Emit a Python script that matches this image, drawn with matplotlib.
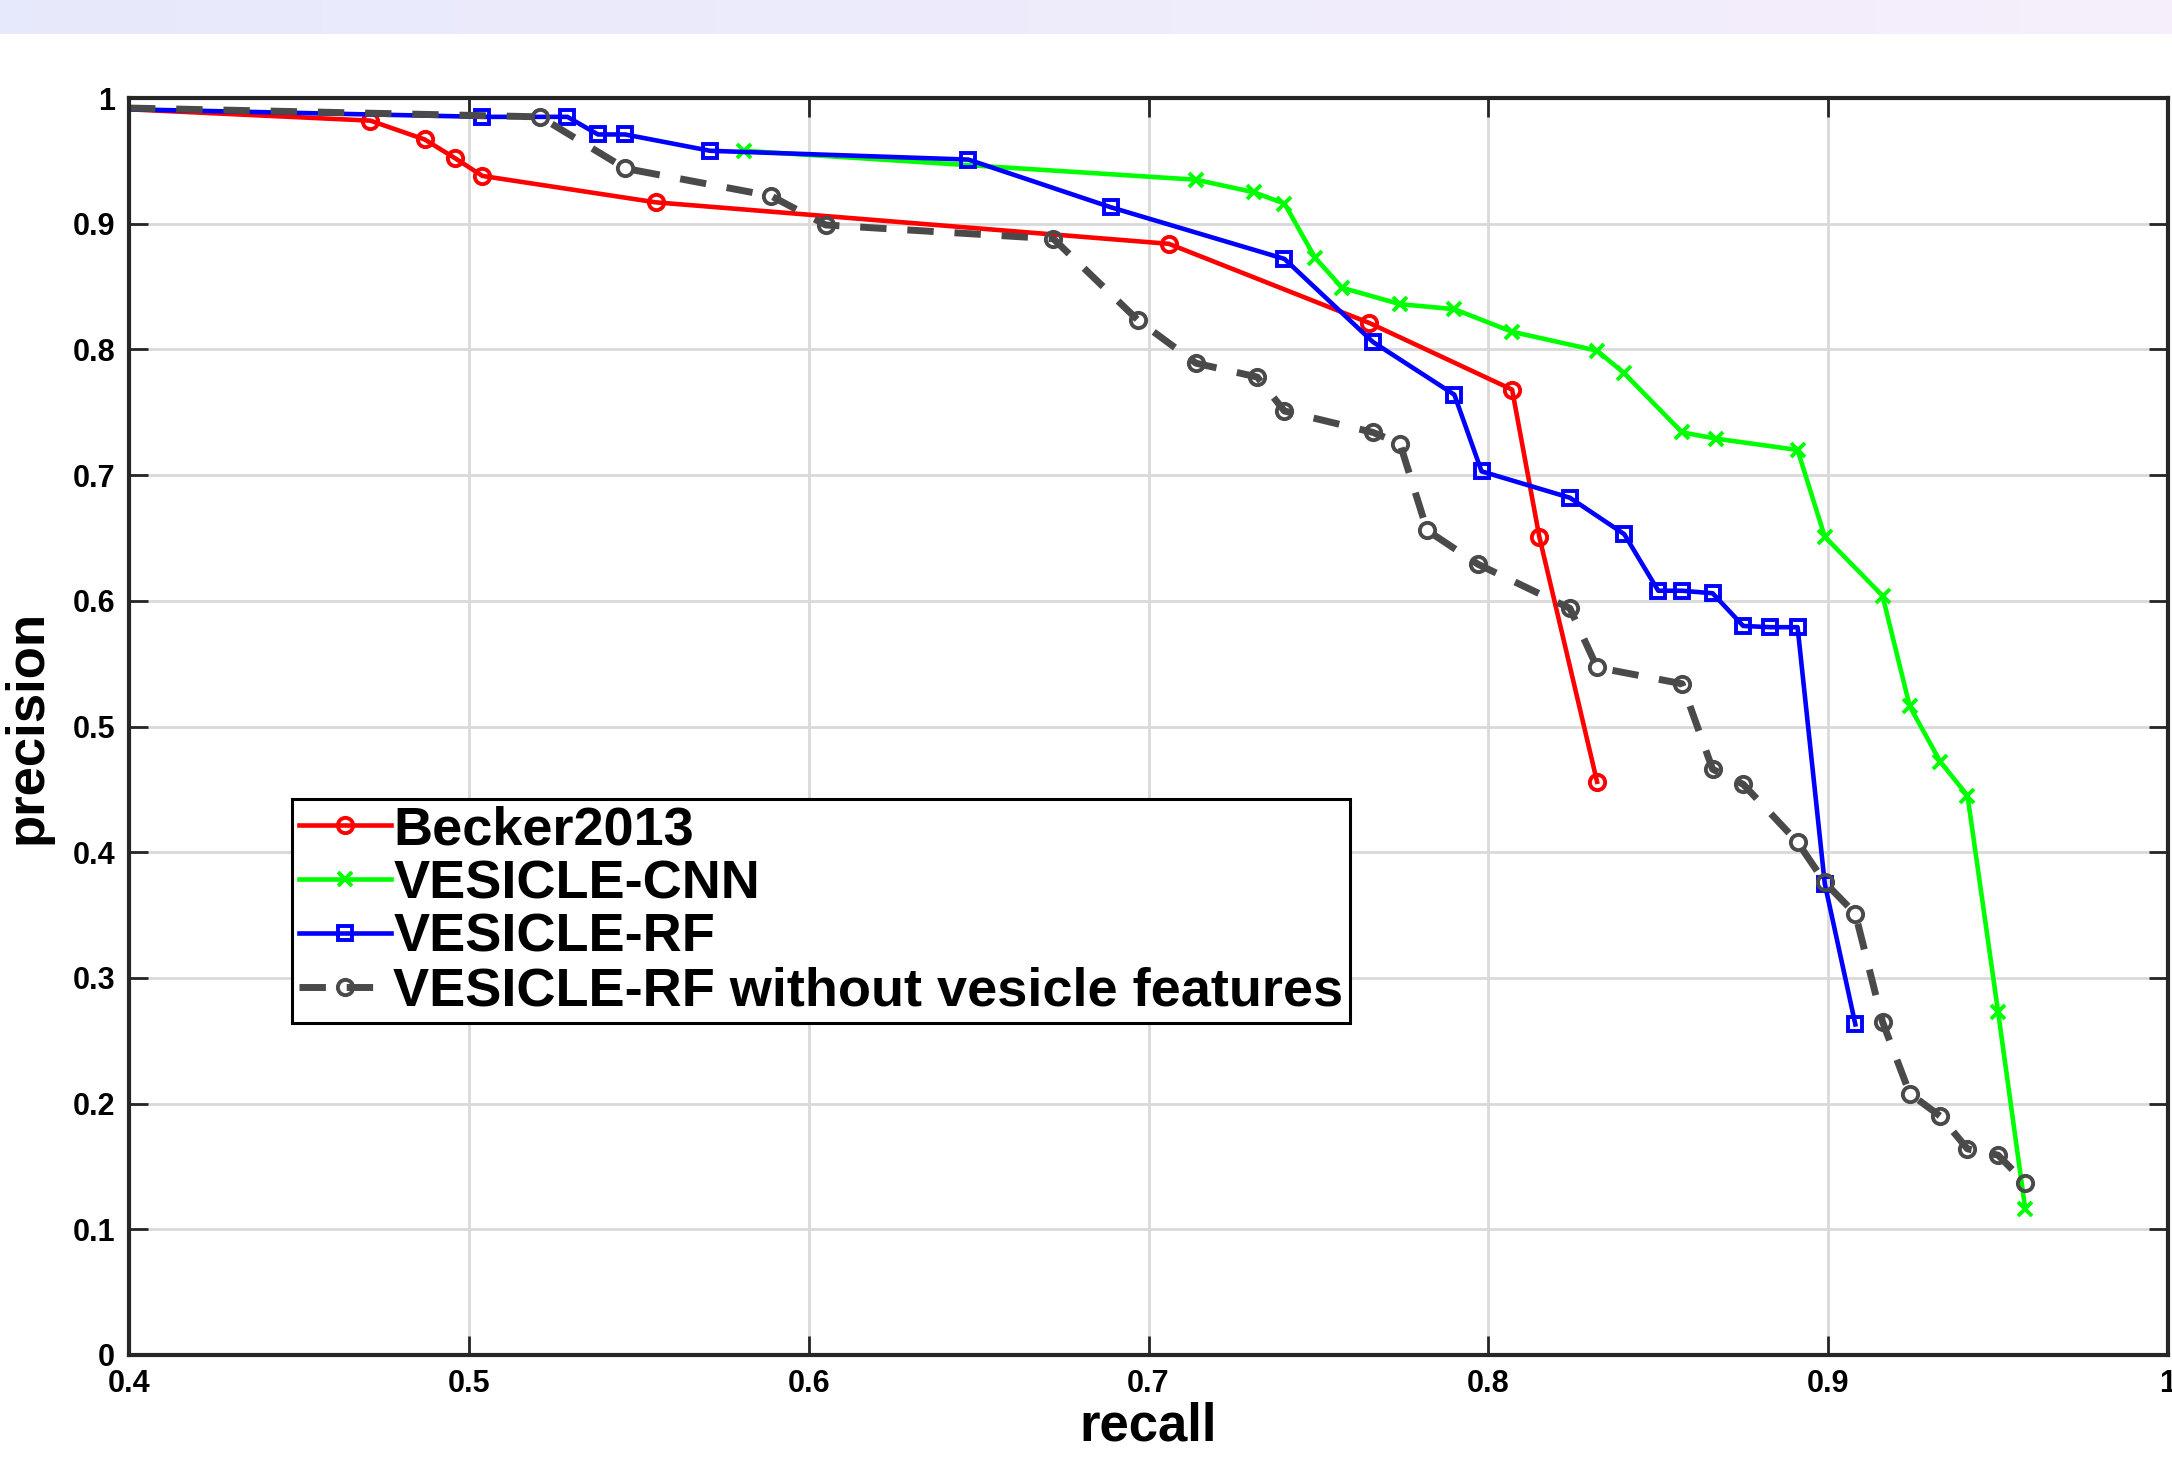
import matplotlib
matplotlib.use('Agg')
import matplotlib.pyplot as plt
import numpy as np

plt.rcParams['font.family'] = ['Liberation Sans', 'DejaVu Sans']

# precision / recall curves
becker_recall = [0.400, 0.471, 0.487, 0.496, 0.504, 0.555, 0.706, 0.765, 0.807, 0.815, 0.832]
becker_prec = [0.991, 0.982, 0.967, 0.952, 0.938, 0.917, 0.884, 0.821, 0.768, 0.651, 0.456]

cnn_recall = [0.581, 0.714, 0.731, 0.740, 0.749, 0.757, 0.774, 0.790, 0.807, 0.832, 0.840,
              0.857, 0.867, 0.891, 0.899, 0.916, 0.924, 0.933, 0.941, 0.950, 0.958]
cnn_prec = [0.958, 0.935, 0.925, 0.916, 0.873, 0.849, 0.836, 0.832, 0.814, 0.799, 0.781,
            0.734, 0.729, 0.720, 0.651, 0.604, 0.516, 0.472, 0.445, 0.273, 0.116]

rf_recall = [0.400, 0.504, 0.529, 0.538, 0.546, 0.571, 0.647, 0.689, 0.740, 0.766, 0.790,
             0.798, 0.824, 0.840, 0.850, 0.857, 0.866, 0.875, 0.883, 0.891, 0.899, 0.908]
rf_prec = [0.991, 0.985, 0.985, 0.971, 0.971, 0.958, 0.951, 0.913, 0.872, 0.806, 0.764,
           0.703, 0.682, 0.653, 0.608, 0.608, 0.606, 0.580, 0.579, 0.579, 0.375, 0.263]

nov_recall = [0.400, 0.521, 0.546, 0.589, 0.605, 0.672, 0.697, 0.714, 0.732, 0.740, 0.766,
              0.774, 0.782, 0.797, 0.824, 0.832, 0.857, 0.866, 0.875, 0.891, 0.899, 0.908,
              0.916, 0.924, 0.933, 0.941, 0.950, 0.958]
nov_prec = [0.992, 0.985, 0.944, 0.922, 0.899, 0.888, 0.823, 0.789, 0.778, 0.751, 0.734,
            0.725, 0.656, 0.629, 0.594, 0.547, 0.534, 0.466, 0.454, 0.408, 0.376, 0.351,
            0.265, 0.208, 0.190, 0.164, 0.159, 0.137]

labels = ['Becker2013', 'VESICLE-CNN', 'VESICLE-RF', 'VESICLE-RF without vesicle features']
x_ticks = [0.4, 0.5, 0.6, 0.7, 0.8, 0.9, 1.0]
x_ticklabels = ['0.4', '0.5', '0.6', '0.7', '0.8', '0.9', '1']
y_ticks = [0, 0.1, 0.2, 0.3, 0.4, 0.5, 0.6, 0.7, 0.8, 0.9, 1.0]
y_ticklabels = ['0', '0.1', '0.2', '0.3', '0.4', '0.5', '0.6', '0.7', '0.8', '0.9', '1']

W, H = 2172, 1458
fig = plt.figure(figsize=(W / 100, H / 100), dpi=100)

# pale gradient band at the very top of the page
band = fig.add_axes([0, 1 - 34 / H, 1, 34 / H])
grad = np.linspace(0, 1, 256)
c0 = np.array([0.905, 0.915, 0.985])
c1 = np.array([0.965, 0.935, 0.988])
band.imshow((c0[None, :] * (1 - grad[:, None]) + c1[None, :] * grad[:, None])[None, :, :],
            aspect='auto', extent=[0, 1, 0, 1])
band.axis('off')

ax = fig.add_axes([129 / W, 1 - 1355 / H, (2168 - 129) / W, (1355 - 98) / H])

ax.plot(becker_recall, becker_prec, color='#ff0000', lw=3.3, marker='o', ms=11, mew=2.8,
        mfc='none', markevery=range(1, len(becker_recall)), label=labels[0])
ax.plot(cnn_recall, cnn_prec, color='#00ff00', lw=3.3, marker='x', ms=10, mew=2.8,
        label=labels[1])
ax.plot(rf_recall, rf_prec, color='#0000ff', lw=3.3, marker='s', ms=10, mew=2.8,
        mfc='none', markevery=range(1, len(rf_recall)), label=labels[2])
ax.plot(nov_recall, nov_prec, color='#4a4a4a', lw=5, ls=(0, (3.8, 3.0)), marker='o', ms=11,
        mew=2.8, mfc='none', markevery=range(1, len(nov_recall)), label=labels[3])

ax.set_xlim(0.4, 1.0)
ax.set_ylim(0, 1)
ax.set_xticks(x_ticks)
ax.set_xticklabels(x_ticklabels)
ax.set_yticks(y_ticks)
ax.set_yticklabels(y_ticklabels)
ax.tick_params(direction='in', length=14, width=2, top=True, right=True,
               labelsize=22, pad=10, color='#262626')
for lab in ax.get_xticklabels() + ax.get_yticklabels():
    lab.set_fontweight('bold')
for sp in ax.spines.values():
    sp.set_linewidth(3)
    sp.set_color('#262626')
ax.grid(True, color='#d9d9d9', lw=2)
ax.set_axisbelow(True)

ax.set_xlabel('recall', fontsize=38, fontweight='bold', labelpad=2)
ax.set_ylabel('precision', fontsize=38, fontweight='bold', labelpad=14)

leg = ax.legend(loc='lower left', bbox_to_anchor=(0.080, 0.264),
                prop={'weight': 'bold', 'size': 39}, fancybox=False, edgecolor='black',
                framealpha=1, borderpad=0.12, borderaxespad=0, labelspacing=0.07,
                handlelength=1.7, handletextpad=0.05)
leg.get_frame().set_linewidth(2.2)

fig.savefig('out.png', dpi=100)
